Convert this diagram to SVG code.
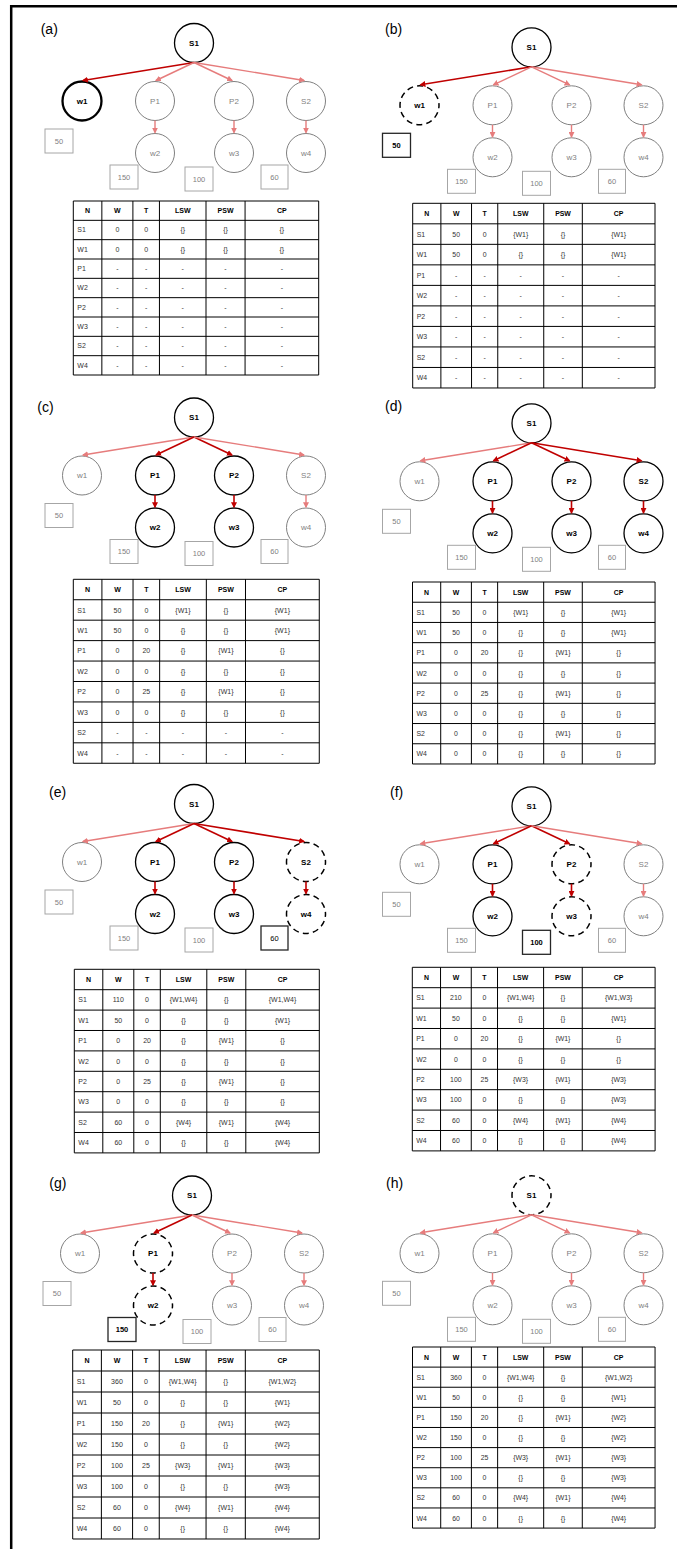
<svg xmlns="http://www.w3.org/2000/svg" width="677" height="1549" viewBox="0 0 677 1549">
<style>
text{font-family:"Liberation Sans",Arial,sans-serif}
.frame{fill:none;stroke:#000;stroke-width:2.5}
.plabel{font-size:14px;fill:#000}
.nd circle{fill:#fff}
.nd text{font-size:8px;text-anchor:middle}
.act circle{stroke:#000;stroke-width:1.3}
.thick circle{stroke:#000;stroke-width:2.3}
.dash circle{stroke:#000;stroke-width:1.5;stroke-dasharray:6.1 4.11;stroke-dashoffset:3.05}
.off circle{stroke:#808080;stroke-width:1}
.act text,.thick text,.dash text{font-weight:bold;fill:#000}
.off text{fill:#7f7f7f}
.bx rect{fill:#fff}
.bx text{font-size:7.5px;text-anchor:middle}
.bx.off rect{stroke:#a6a6a6;stroke-width:1}
.bx.on rect{stroke:#262626;stroke-width:1.3}
.bx.on text{fill:#000}
.bx.on.b text{font-weight:bold}
.eon{fill:none;stroke:#c00000;stroke-width:1.6;marker-end:url(#ahOn)}
.eoff{fill:none;stroke:#e67c7c;stroke-width:1.4;marker-end:url(#ahOff)}
.tt{font-size:7px;fill:#333}
.th{font-weight:bold;fill:#000}
.c{text-anchor:middle}
.grid{fill:none;stroke:#000;stroke-width:1}
</style>
<defs>
<marker id="ahOn" viewBox="0 0 8 8" refX="6.5" refY="4" markerWidth="6" markerHeight="6" markerUnits="userSpaceOnUse" orient="auto"><path d="M0,0L8,4L0,8z" fill="#c00000"/></marker>
<marker id="ahOff" viewBox="0 0 8 8" refX="6.5" refY="4" markerWidth="6" markerHeight="6" markerUnits="userSpaceOnUse" orient="auto"><path d="M0,0L8,4L0,8z" fill="#e67c7c"/></marker>
<g id="tframe">
<path class="grid" vector-effect="non-scaling-stroke" d="M0,0H245M0,20H245M0,40H245M0,60H245M0,80H245M0,100H245M0,120H245M0,140H245M0,160H245M0,180H245M0,0V180M28.5,0V180M59.5,0V180M86,0V180M132.5,0V180M171.5,0V180M245,0V180"/>
<text class="tt th c" y="12.5"><tspan x="14.25">N</tspan><tspan x="44">W</tspan><tspan x="72.75">T</tspan><tspan x="109.25">LSW</tspan><tspan x="152">PSW</tspan><tspan x="208.25">CP</tspan></text>
<text class="tt"><tspan x="4" y="32.5">S1</tspan><tspan x="4" y="52.5">W1</tspan><tspan x="4" y="72.5">P1</tspan><tspan x="4" y="92.5">W2</tspan><tspan x="4" y="112.5">P2</tspan><tspan x="4" y="132.5">W3</tspan><tspan x="4" y="152.5">S2</tspan><tspan x="4" y="172.5">W4</tspan></text>
</g>
</defs>
<rect width="677" height="1549" fill="#fff"/>
<path class="frame" d="M11.2,1549V6.2H677"/>

<g id="labels">
<text class="plabel" x="40.7" y="33.5">(a)</text>
<text class="plabel" x="385" y="33.5">(b)</text>
<text class="plabel" x="37.3" y="412">(c)</text>
<text class="plabel" x="385" y="411">(d)</text>
<text class="plabel" x="49" y="797">(e)</text>
<text class="plabel" x="390" y="797">(f)</text>
<text class="plabel" x="49.3" y="1188">(g)</text>
<text class="plabel" x="386" y="1188">(h)</text>
</g>

<!-- Panel a -->
<g id="panel-a" transform="translate(0,0)">
<g id="a-S1" class="nd act"><circle cx="194" cy="43" r="19.5"/><text x="194" y="45.8">S1</text></g>
<g id="a-w1" class="nd thick"><circle cx="82" cy="101" r="19.5"/><text x="82" y="103.8">w1</text></g>
<g id="a-P1" class="nd off"><circle cx="155" cy="101" r="19.5"/><text x="155" y="103.8">P1</text></g>
<g id="a-P2" class="nd off"><circle cx="234" cy="101" r="19.5"/><text x="234" y="103.8">P2</text></g>
<g id="a-S2" class="nd off"><circle cx="306" cy="101" r="19.5"/><text x="306" y="103.8">S2</text></g>
<g id="a-w2" class="nd off"><circle cx="155" cy="153" r="19.5"/><text x="155" y="155.8">w2</text></g>
<g id="a-w3" class="nd off"><circle cx="234" cy="153" r="19.5"/><text x="234" y="155.8">w3</text></g>
<g id="a-w4" class="nd off"><circle cx="306" cy="153" r="19.5"/><text x="306" y="155.8">w4</text></g>
<g id="a-v1" class="bx off"><rect x="45" y="129" width="28" height="24"/><text x="59" y="143.7">50</text></g>
<g id="a-v2" class="bx off"><rect x="110" y="165" width="28" height="24"/><text x="124" y="179.7">150</text></g>
<g id="a-v3" class="bx off"><rect x="185" y="167" width="28" height="24"/><text x="199" y="181.7">100</text></g>
<g id="a-v4" class="bx off"><rect x="261" y="165" width="27" height="24"/><text x="274.5" y="179.7">60</text></g>
<g id="a-edges">
<path class="eon" d="M194,62.5L83,80.5"/>
<path class="eoff" d="M194,62.5L156,80.5"/>
<path class="eoff" d="M194,62.5L232,80.5"/>
<path class="eoff" d="M194,62.5L304,80.5"/>
<path class="eoff" d="M155,120.5V132.5"/>
<path class="eoff" d="M234,120.5V132.5"/>
<path class="eoff" d="M306,120.5V132.5"/>
</g>
</g>

<!-- Panel b -->
<g id="panel-b" transform="translate(337.5,4.3)">
<g id="b-S1" class="nd act"><circle cx="194" cy="43" r="19.5"/><text x="194" y="45.8">S1</text></g>
<g id="b-w1" class="nd dash"><circle cx="82" cy="101" r="19.5"/><text x="82" y="103.8">w1</text></g>
<g id="b-P1" class="nd off"><circle cx="155" cy="101" r="19.5"/><text x="155" y="103.8">P1</text></g>
<g id="b-P2" class="nd off"><circle cx="234" cy="101" r="19.5"/><text x="234" y="103.8">P2</text></g>
<g id="b-S2" class="nd off"><circle cx="306" cy="101" r="19.5"/><text x="306" y="103.8">S2</text></g>
<g id="b-w2" class="nd off"><circle cx="155" cy="153" r="19.5"/><text x="155" y="155.8">w2</text></g>
<g id="b-w3" class="nd off"><circle cx="234" cy="153" r="19.5"/><text x="234" y="155.8">w3</text></g>
<g id="b-w4" class="nd off"><circle cx="306" cy="153" r="19.5"/><text x="306" y="155.8">w4</text></g>
<g id="b-v1" class="bx on b"><rect x="45" y="129" width="28" height="24"/><text x="59" y="143.7">50</text></g>
<g id="b-v2" class="bx off"><rect x="110" y="165" width="28" height="24"/><text x="124" y="179.7">150</text></g>
<g id="b-v3" class="bx off"><rect x="185" y="167" width="28" height="24"/><text x="199" y="181.7">100</text></g>
<g id="b-v4" class="bx off"><rect x="261" y="165" width="27" height="24"/><text x="274.5" y="179.7">60</text></g>
<g id="b-edges">
<path class="eon" d="M194,62.5L83,80.5"/>
<path class="eoff" d="M194,62.5L156,80.5"/>
<path class="eoff" d="M194,62.5L232,80.5"/>
<path class="eoff" d="M194,62.5L304,80.5"/>
<path class="eoff" d="M155,120.5V132.5"/>
<path class="eoff" d="M234,120.5V132.5"/>
<path class="eoff" d="M306,120.5V132.5"/>
</g>
</g>

<!-- Panel c -->
<g id="panel-c" transform="translate(0,374.5)">
<g id="c-S1" class="nd act"><circle cx="194" cy="43" r="19.5"/><text x="194" y="45.8">S1</text></g>
<g id="c-w1" class="nd off"><circle cx="82" cy="101" r="19.5"/><text x="82" y="103.8">w1</text></g>
<g id="c-P1" class="nd act"><circle cx="155" cy="101" r="19.5"/><text x="155" y="103.8">P1</text></g>
<g id="c-P2" class="nd act"><circle cx="234" cy="101" r="19.5"/><text x="234" y="103.8">P2</text></g>
<g id="c-S2" class="nd off"><circle cx="306" cy="101" r="19.5"/><text x="306" y="103.8">S2</text></g>
<g id="c-w2" class="nd act"><circle cx="155" cy="153" r="19.5"/><text x="155" y="155.8">w2</text></g>
<g id="c-w3" class="nd act"><circle cx="234" cy="153" r="19.5"/><text x="234" y="155.8">w3</text></g>
<g id="c-w4" class="nd off"><circle cx="306" cy="153" r="19.5"/><text x="306" y="155.8">w4</text></g>
<g id="c-v1" class="bx off"><rect x="45" y="129" width="28" height="24"/><text x="59" y="143.7">50</text></g>
<g id="c-v2" class="bx off"><rect x="110" y="165" width="28" height="24"/><text x="124" y="179.7">150</text></g>
<g id="c-v3" class="bx off"><rect x="185" y="167" width="28" height="24"/><text x="199" y="181.7">100</text></g>
<g id="c-v4" class="bx off"><rect x="261" y="165" width="27" height="24"/><text x="274.5" y="179.7">60</text></g>
<g id="c-edges">
<path class="eoff" d="M194,62.5L83,80.5"/>
<path class="eon" d="M194,62.5L156,80.5"/>
<path class="eon" d="M194,62.5L232,80.5"/>
<path class="eoff" d="M194,62.5L304,80.5"/>
<path class="eon" d="M155,120.5V132.5"/>
<path class="eon" d="M234,120.5V132.5"/>
<path class="eoff" d="M306,120.5V132.5"/>
</g>
</g>

<!-- Panel d -->
<g id="panel-d" transform="translate(337.5,380.3)">
<g id="d-S1" class="nd act"><circle cx="194" cy="43" r="19.5"/><text x="194" y="45.8">S1</text></g>
<g id="d-w1" class="nd off"><circle cx="82" cy="101" r="19.5"/><text x="82" y="103.8">w1</text></g>
<g id="d-P1" class="nd act"><circle cx="155" cy="101" r="19.5"/><text x="155" y="103.8">P1</text></g>
<g id="d-P2" class="nd act"><circle cx="234" cy="101" r="19.5"/><text x="234" y="103.8">P2</text></g>
<g id="d-S2" class="nd act"><circle cx="306" cy="101" r="19.5"/><text x="306" y="103.8">S2</text></g>
<g id="d-w2" class="nd act"><circle cx="155" cy="153" r="19.5"/><text x="155" y="155.8">w2</text></g>
<g id="d-w3" class="nd act"><circle cx="234" cy="153" r="19.5"/><text x="234" y="155.8">w3</text></g>
<g id="d-w4" class="nd act"><circle cx="306" cy="153" r="19.5"/><text x="306" y="155.8">w4</text></g>
<g id="d-v1" class="bx off"><rect x="45" y="129" width="28" height="24"/><text x="59" y="143.7">50</text></g>
<g id="d-v2" class="bx off"><rect x="110" y="165" width="28" height="24"/><text x="124" y="179.7">150</text></g>
<g id="d-v3" class="bx off"><rect x="185" y="167" width="28" height="24"/><text x="199" y="181.7">100</text></g>
<g id="d-v4" class="bx off"><rect x="261" y="165" width="27" height="24"/><text x="274.5" y="179.7">60</text></g>
<g id="d-edges">
<path class="eoff" d="M194,62.5L83,80.5"/>
<path class="eon" d="M194,62.5L156,80.5"/>
<path class="eon" d="M194,62.5L232,80.5"/>
<path class="eon" d="M194,62.5L304,80.5"/>
<path class="eon" d="M155,120.5V132.5"/>
<path class="eon" d="M234,120.5V132.5"/>
<path class="eon" d="M306,120.5V132.5"/>
</g>
</g>

<!-- Panel e -->
<g id="panel-e" transform="translate(0,761)">
<g id="e-S1" class="nd act"><circle cx="194" cy="43" r="19.5"/><text x="194" y="45.8">S1</text></g>
<g id="e-w1" class="nd off"><circle cx="82" cy="101" r="19.5"/><text x="82" y="103.8">w1</text></g>
<g id="e-P1" class="nd act"><circle cx="155" cy="101" r="19.5"/><text x="155" y="103.8">P1</text></g>
<g id="e-P2" class="nd act"><circle cx="234" cy="101" r="19.5"/><text x="234" y="103.8">P2</text></g>
<g id="e-S2" class="nd dash"><circle cx="306" cy="101" r="19.5"/><text x="306" y="103.8">S2</text></g>
<g id="e-w2" class="nd act"><circle cx="155" cy="153" r="19.5"/><text x="155" y="155.8">w2</text></g>
<g id="e-w3" class="nd act"><circle cx="234" cy="153" r="19.5"/><text x="234" y="155.8">w3</text></g>
<g id="e-w4" class="nd dash"><circle cx="306" cy="153" r="19.5"/><text x="306" y="155.8">w4</text></g>
<g id="e-v1" class="bx off"><rect x="45" y="129" width="28" height="24"/><text x="59" y="143.7">50</text></g>
<g id="e-v2" class="bx off"><rect x="110" y="165" width="28" height="24"/><text x="124" y="179.7">150</text></g>
<g id="e-v3" class="bx off"><rect x="185" y="167" width="28" height="24"/><text x="199" y="181.7">100</text></g>
<g id="e-v4" class="bx on"><rect x="261" y="165" width="27" height="24"/><text x="274.5" y="179.7">60</text></g>
<g id="e-edges">
<path class="eoff" d="M194,62.5L83,80.5"/>
<path class="eon" d="M194,62.5L156,80.5"/>
<path class="eon" d="M194,62.5L232,80.5"/>
<path class="eon" d="M194,62.5L304,80.5"/>
<path class="eon" d="M155,120.5V132.5"/>
<path class="eon" d="M234,120.5V132.5"/>
<path class="eon" d="M306,120.5V132.5"/>
</g>
</g>

<!-- Panel f -->
<g id="panel-f" transform="translate(337.5,763.3)">
<g id="f-S1" class="nd act"><circle cx="194" cy="43" r="19.5"/><text x="194" y="45.8">S1</text></g>
<g id="f-w1" class="nd off"><circle cx="82" cy="101" r="19.5"/><text x="82" y="103.8">w1</text></g>
<g id="f-P1" class="nd act"><circle cx="155" cy="101" r="19.5"/><text x="155" y="103.8">P1</text></g>
<g id="f-P2" class="nd dash"><circle cx="234" cy="101" r="19.5"/><text x="234" y="103.8">P2</text></g>
<g id="f-S2" class="nd off"><circle cx="306" cy="101" r="19.5"/><text x="306" y="103.8">S2</text></g>
<g id="f-w2" class="nd act"><circle cx="155" cy="153" r="19.5"/><text x="155" y="155.8">w2</text></g>
<g id="f-w3" class="nd dash"><circle cx="234" cy="153" r="19.5"/><text x="234" y="155.8">w3</text></g>
<g id="f-w4" class="nd off"><circle cx="306" cy="153" r="19.5"/><text x="306" y="155.8">w4</text></g>
<g id="f-v1" class="bx off"><rect x="45" y="129" width="28" height="24"/><text x="59" y="143.7">50</text></g>
<g id="f-v2" class="bx off"><rect x="110" y="165" width="28" height="24"/><text x="124" y="179.7">150</text></g>
<g id="f-v3" class="bx on b"><rect x="185" y="167" width="28" height="24"/><text x="199" y="181.7">100</text></g>
<g id="f-v4" class="bx off"><rect x="261" y="165" width="27" height="24"/><text x="274.5" y="179.7">60</text></g>
<g id="f-edges">
<path class="eoff" d="M194,62.5L83,80.5"/>
<path class="eon" d="M194,62.5L156,80.5"/>
<path class="eon" d="M194,62.5L232,80.5"/>
<path class="eoff" d="M194,62.5L304,80.5"/>
<path class="eon" d="M155,120.5V132.5"/>
<path class="eon" d="M234,120.5V132.5"/>
<path class="eoff" d="M306,120.5V132.5"/>
</g>
</g>

<!-- Panel g -->
<g id="panel-g" transform="translate(-2,1152.5)">
<g id="g-S1" class="nd act"><circle cx="194" cy="43" r="19.5"/><text x="194" y="45.8">S1</text></g>
<g id="g-w1" class="nd off"><circle cx="82" cy="101" r="19.5"/><text x="82" y="103.8">w1</text></g>
<g id="g-P1" class="nd dash"><circle cx="155" cy="101" r="19.5"/><text x="155" y="103.8">P1</text></g>
<g id="g-P2" class="nd off"><circle cx="234" cy="101" r="19.5"/><text x="234" y="103.8">P2</text></g>
<g id="g-S2" class="nd off"><circle cx="306" cy="101" r="19.5"/><text x="306" y="103.8">S2</text></g>
<g id="g-w2" class="nd dash"><circle cx="155" cy="153" r="19.5"/><text x="155" y="155.8">w2</text></g>
<g id="g-w3" class="nd off"><circle cx="234" cy="153" r="19.5"/><text x="234" y="155.8">w3</text></g>
<g id="g-w4" class="nd off"><circle cx="306" cy="153" r="19.5"/><text x="306" y="155.8">w4</text></g>
<g id="g-v1" class="bx off"><rect x="45" y="129" width="28" height="24"/><text x="59" y="143.7">50</text></g>
<g id="g-v2" class="bx on b"><rect x="110" y="165" width="28" height="24"/><text x="124" y="179.7">150</text></g>
<g id="g-v3" class="bx off"><rect x="185" y="167" width="28" height="24"/><text x="199" y="181.7">100</text></g>
<g id="g-v4" class="bx off"><rect x="261" y="165" width="27" height="24"/><text x="274.5" y="179.7">60</text></g>
<g id="g-edges">
<path class="eoff" d="M194,62.5L83,80.5"/>
<path class="eon" d="M194,62.5L156,80.5"/>
<path class="eoff" d="M194,62.5L232,80.5"/>
<path class="eoff" d="M194,62.5L304,80.5"/>
<path class="eon" d="M155,120.5V132.5"/>
<path class="eoff" d="M234,120.5V132.5"/>
<path class="eoff" d="M306,120.5V132.5"/>
</g>
</g>

<!-- Panel h -->
<g id="panel-h" transform="translate(337.5,1152.3)">
<g id="h-S1" class="nd dash"><circle cx="194" cy="43" r="19.5"/><text x="194" y="45.8">S1</text></g>
<g id="h-w1" class="nd off"><circle cx="82" cy="101" r="19.5"/><text x="82" y="103.8">w1</text></g>
<g id="h-P1" class="nd off"><circle cx="155" cy="101" r="19.5"/><text x="155" y="103.8">P1</text></g>
<g id="h-P2" class="nd off"><circle cx="234" cy="101" r="19.5"/><text x="234" y="103.8">P2</text></g>
<g id="h-S2" class="nd off"><circle cx="306" cy="101" r="19.5"/><text x="306" y="103.8">S2</text></g>
<g id="h-w2" class="nd off"><circle cx="155" cy="153" r="19.5"/><text x="155" y="155.8">w2</text></g>
<g id="h-w3" class="nd off"><circle cx="234" cy="153" r="19.5"/><text x="234" y="155.8">w3</text></g>
<g id="h-w4" class="nd off"><circle cx="306" cy="153" r="19.5"/><text x="306" y="155.8">w4</text></g>
<g id="h-v1" class="bx off"><rect x="45" y="129" width="28" height="24"/><text x="59" y="143.7">50</text></g>
<g id="h-v2" class="bx off"><rect x="110" y="165" width="28" height="24"/><text x="124" y="179.7">150</text></g>
<g id="h-v3" class="bx off"><rect x="185" y="167" width="28" height="24"/><text x="199" y="181.7">100</text></g>
<g id="h-v4" class="bx off"><rect x="261" y="165" width="27" height="24"/><text x="274.5" y="179.7">60</text></g>
<g id="h-edges">
<path class="eoff" d="M194,62.5L83,80.5"/>
<path class="eoff" d="M194,62.5L156,80.5"/>
<path class="eoff" d="M194,62.5L232,80.5"/>
<path class="eoff" d="M194,62.5L304,80.5"/>
<path class="eoff" d="M155,120.5V132.5"/>
<path class="eoff" d="M234,120.5V132.5"/>
<path class="eoff" d="M306,120.5V132.5"/>
</g>
</g>

<!-- Tables -->
<g id="table-a" transform="translate(73.3,201) scale(1.0016,0.9667)">
<use href="#tframe"/>
<text class="tt c" y="32.5"><tspan x="44">0</tspan><tspan x="72.75">0</tspan><tspan x="109.25">{}</tspan><tspan x="152">{}</tspan><tspan x="208.25">{}</tspan></text>
<text class="tt c" y="52.5"><tspan x="44">0</tspan><tspan x="72.75">0</tspan><tspan x="109.25">{}</tspan><tspan x="152">{}</tspan><tspan x="208.25">{}</tspan></text>
<text class="tt c" y="72.5"><tspan x="44">-</tspan><tspan x="72.75">-</tspan><tspan x="109.25">-</tspan><tspan x="152">-</tspan><tspan x="208.25">-</tspan></text>
<text class="tt c" y="92.5"><tspan x="44">-</tspan><tspan x="72.75">-</tspan><tspan x="109.25">-</tspan><tspan x="152">-</tspan><tspan x="208.25">-</tspan></text>
<text class="tt c" y="112.5"><tspan x="44">-</tspan><tspan x="72.75">-</tspan><tspan x="109.25">-</tspan><tspan x="152">-</tspan><tspan x="208.25">-</tspan></text>
<text class="tt c" y="132.5"><tspan x="44">-</tspan><tspan x="72.75">-</tspan><tspan x="109.25">-</tspan><tspan x="152">-</tspan><tspan x="208.25">-</tspan></text>
<text class="tt c" y="152.5"><tspan x="44">-</tspan><tspan x="72.75">-</tspan><tspan x="109.25">-</tspan><tspan x="152">-</tspan><tspan x="208.25">-</tspan></text>
<text class="tt c" y="172.5"><tspan x="44">-</tspan><tspan x="72.75">-</tspan><tspan x="109.25">-</tspan><tspan x="152">-</tspan><tspan x="208.25">-</tspan></text>
</g>

<g id="table-b" transform="translate(412.7,203.3) scale(0.989,1.026)">
<use href="#tframe"/>
<text class="tt c" y="32.5"><tspan x="44">50</tspan><tspan x="72.75">0</tspan><tspan x="109.25">{W1}</tspan><tspan x="152">{}</tspan><tspan x="208.25">{W1}</tspan></text>
<text class="tt c" y="52.5"><tspan x="44">50</tspan><tspan x="72.75">0</tspan><tspan x="109.25">{}</tspan><tspan x="152">{}</tspan><tspan x="208.25">{W1}</tspan></text>
<text class="tt c" y="72.5"><tspan x="44">-</tspan><tspan x="72.75">-</tspan><tspan x="109.25">-</tspan><tspan x="152">-</tspan><tspan x="208.25">-</tspan></text>
<text class="tt c" y="92.5"><tspan x="44">-</tspan><tspan x="72.75">-</tspan><tspan x="109.25">-</tspan><tspan x="152">-</tspan><tspan x="208.25">-</tspan></text>
<text class="tt c" y="112.5"><tspan x="44">-</tspan><tspan x="72.75">-</tspan><tspan x="109.25">-</tspan><tspan x="152">-</tspan><tspan x="208.25">-</tspan></text>
<text class="tt c" y="132.5"><tspan x="44">-</tspan><tspan x="72.75">-</tspan><tspan x="109.25">-</tspan><tspan x="152">-</tspan><tspan x="208.25">-</tspan></text>
<text class="tt c" y="152.5"><tspan x="44">-</tspan><tspan x="72.75">-</tspan><tspan x="109.25">-</tspan><tspan x="152">-</tspan><tspan x="208.25">-</tspan></text>
<text class="tt c" y="172.5"><tspan x="44">-</tspan><tspan x="72.75">-</tspan><tspan x="109.25">-</tspan><tspan x="152">-</tspan><tspan x="208.25">-</tspan></text>
</g>

<g id="table-c" transform="translate(73.3,579.3) scale(1.004,1.022)">
<use href="#tframe"/>
<text class="tt c" y="32.5"><tspan x="44">50</tspan><tspan x="72.75">0</tspan><tspan x="109.25">{W1}</tspan><tspan x="152">{}</tspan><tspan x="208.25">{W1}</tspan></text>
<text class="tt c" y="52.5"><tspan x="44">50</tspan><tspan x="72.75">0</tspan><tspan x="109.25">{}</tspan><tspan x="152">{}</tspan><tspan x="208.25">{W1}</tspan></text>
<text class="tt c" y="72.5"><tspan x="44">0</tspan><tspan x="72.75">20</tspan><tspan x="109.25">{}</tspan><tspan x="152">{W1}</tspan><tspan x="208.25">{}</tspan></text>
<text class="tt c" y="92.5"><tspan x="44">0</tspan><tspan x="72.75">0</tspan><tspan x="109.25">{}</tspan><tspan x="152">{}</tspan><tspan x="208.25">{}</tspan></text>
<text class="tt c" y="112.5"><tspan x="44">0</tspan><tspan x="72.75">25</tspan><tspan x="109.25">{}</tspan><tspan x="152">{W1}</tspan><tspan x="208.25">{}</tspan></text>
<text class="tt c" y="132.5"><tspan x="44">0</tspan><tspan x="72.75">0</tspan><tspan x="109.25">{}</tspan><tspan x="152">{}</tspan><tspan x="208.25">{}</tspan></text>
<text class="tt c" y="152.5"><tspan x="44">-</tspan><tspan x="72.75">-</tspan><tspan x="109.25">-</tspan><tspan x="152">-</tspan><tspan x="208.25">-</tspan></text>
<text class="tt c" y="172.5"><tspan x="44">-</tspan><tspan x="72.75">-</tspan><tspan x="109.25">-</tspan><tspan x="152">-</tspan><tspan x="208.25">-</tspan></text>
</g>

<g id="table-d" transform="translate(412.5,582) scale(0.99,1.011)">
<use href="#tframe"/>
<text class="tt c" y="32.5"><tspan x="44">50</tspan><tspan x="72.75">0</tspan><tspan x="109.25">{W1}</tspan><tspan x="152">{}</tspan><tspan x="208.25">{W1}</tspan></text>
<text class="tt c" y="52.5"><tspan x="44">50</tspan><tspan x="72.75">0</tspan><tspan x="109.25">{}</tspan><tspan x="152">{}</tspan><tspan x="208.25">{W1}</tspan></text>
<text class="tt c" y="72.5"><tspan x="44">0</tspan><tspan x="72.75">20</tspan><tspan x="109.25">{}</tspan><tspan x="152">{W1}</tspan><tspan x="208.25">{}</tspan></text>
<text class="tt c" y="92.5"><tspan x="44">0</tspan><tspan x="72.75">0</tspan><tspan x="109.25">{}</tspan><tspan x="152">{}</tspan><tspan x="208.25">{}</tspan></text>
<text class="tt c" y="112.5"><tspan x="44">0</tspan><tspan x="72.75">25</tspan><tspan x="109.25">{}</tspan><tspan x="152">{W1}</tspan><tspan x="208.25">{}</tspan></text>
<text class="tt c" y="132.5"><tspan x="44">0</tspan><tspan x="72.75">0</tspan><tspan x="109.25">{}</tspan><tspan x="152">{}</tspan><tspan x="208.25">{}</tspan></text>
<text class="tt c" y="152.5"><tspan x="44">0</tspan><tspan x="72.75">0</tspan><tspan x="109.25">{}</tspan><tspan x="152">{W1}</tspan><tspan x="208.25">{}</tspan></text>
<text class="tt c" y="172.5"><tspan x="44">0</tspan><tspan x="72.75">0</tspan><tspan x="109.25">{}</tspan><tspan x="152">{}</tspan><tspan x="208.25">{}</tspan></text>
</g>

<g id="table-e" transform="translate(74.3,969.3) scale(1,1.02)">
<use href="#tframe"/>
<text class="tt c" y="32.5"><tspan x="44">110</tspan><tspan x="72.75">0</tspan><tspan x="109.25">{W1,W4}</tspan><tspan x="152">{}</tspan><tspan x="208.25">{W1,W4}</tspan></text>
<text class="tt c" y="52.5"><tspan x="44">50</tspan><tspan x="72.75">0</tspan><tspan x="109.25">{}</tspan><tspan x="152">{}</tspan><tspan x="208.25">{W1}</tspan></text>
<text class="tt c" y="72.5"><tspan x="44">0</tspan><tspan x="72.75">20</tspan><tspan x="109.25">{}</tspan><tspan x="152">{W1}</tspan><tspan x="208.25">{}</tspan></text>
<text class="tt c" y="92.5"><tspan x="44">0</tspan><tspan x="72.75">0</tspan><tspan x="109.25">{}</tspan><tspan x="152">{}</tspan><tspan x="208.25">{}</tspan></text>
<text class="tt c" y="112.5"><tspan x="44">0</tspan><tspan x="72.75">25</tspan><tspan x="109.25">{}</tspan><tspan x="152">{W1}</tspan><tspan x="208.25">{}</tspan></text>
<text class="tt c" y="132.5"><tspan x="44">0</tspan><tspan x="72.75">0</tspan><tspan x="109.25">{}</tspan><tspan x="152">{}</tspan><tspan x="208.25">{}</tspan></text>
<text class="tt c" y="152.5"><tspan x="44">60</tspan><tspan x="72.75">0</tspan><tspan x="109.25">{W4}</tspan><tspan x="152">{W1}</tspan><tspan x="208.25">{W4}</tspan></text>
<text class="tt c" y="172.5"><tspan x="44">60</tspan><tspan x="72.75">0</tspan><tspan x="109.25">{}</tspan><tspan x="152">{}</tspan><tspan x="208.25">{W4}</tspan></text>
</g>

<g id="table-f" transform="translate(412.3,967.3) scale(0.991,1.02)">
<use href="#tframe"/>
<text class="tt c" y="32.5"><tspan x="44">210</tspan><tspan x="72.75">0</tspan><tspan x="109.25">{W1,W4}</tspan><tspan x="152">{}</tspan><tspan x="208.25">{W1,W3}</tspan></text>
<text class="tt c" y="52.5"><tspan x="44">50</tspan><tspan x="72.75">0</tspan><tspan x="109.25">{}</tspan><tspan x="152">{}</tspan><tspan x="208.25">{W1}</tspan></text>
<text class="tt c" y="72.5"><tspan x="44">0</tspan><tspan x="72.75">20</tspan><tspan x="109.25">{}</tspan><tspan x="152">{W1}</tspan><tspan x="208.25">{}</tspan></text>
<text class="tt c" y="92.5"><tspan x="44">0</tspan><tspan x="72.75">0</tspan><tspan x="109.25">{}</tspan><tspan x="152">{}</tspan><tspan x="208.25">{}</tspan></text>
<text class="tt c" y="112.5"><tspan x="44">100</tspan><tspan x="72.75">25</tspan><tspan x="109.25">{W3}</tspan><tspan x="152">{W1}</tspan><tspan x="208.25">{W3}</tspan></text>
<text class="tt c" y="132.5"><tspan x="44">100</tspan><tspan x="72.75">0</tspan><tspan x="109.25">{}</tspan><tspan x="152">{}</tspan><tspan x="208.25">{W3}</tspan></text>
<text class="tt c" y="152.5"><tspan x="44">60</tspan><tspan x="72.75">0</tspan><tspan x="109.25">{W4}</tspan><tspan x="152">{W1}</tspan><tspan x="208.25">{W4}</tspan></text>
<text class="tt c" y="172.5"><tspan x="44">60</tspan><tspan x="72.75">0</tspan><tspan x="109.25">{}</tspan><tspan x="152">{}</tspan><tspan x="208.25">{W4}</tspan></text>
</g>

<g id="table-g" transform="translate(72.7,1350) scale(1.0065,1.05)">
<use href="#tframe"/>
<text class="tt c" y="32.5"><tspan x="44">360</tspan><tspan x="72.75">0</tspan><tspan x="109.25">{W1,W4}</tspan><tspan x="152">{}</tspan><tspan x="208.25">{W1,W2}</tspan></text>
<text class="tt c" y="52.5"><tspan x="44">50</tspan><tspan x="72.75">0</tspan><tspan x="109.25">{}</tspan><tspan x="152">{}</tspan><tspan x="208.25">{W1}</tspan></text>
<text class="tt c" y="72.5"><tspan x="44">150</tspan><tspan x="72.75">20</tspan><tspan x="109.25">{}</tspan><tspan x="152">{W1}</tspan><tspan x="208.25">{W2}</tspan></text>
<text class="tt c" y="92.5"><tspan x="44">150</tspan><tspan x="72.75">0</tspan><tspan x="109.25">{}</tspan><tspan x="152">{}</tspan><tspan x="208.25">{W2}</tspan></text>
<text class="tt c" y="112.5"><tspan x="44">100</tspan><tspan x="72.75">25</tspan><tspan x="109.25">{W3}</tspan><tspan x="152">{W1}</tspan><tspan x="208.25">{W3}</tspan></text>
<text class="tt c" y="132.5"><tspan x="44">100</tspan><tspan x="72.75">0</tspan><tspan x="109.25">{}</tspan><tspan x="152">{}</tspan><tspan x="208.25">{W3}</tspan></text>
<text class="tt c" y="152.5"><tspan x="44">60</tspan><tspan x="72.75">0</tspan><tspan x="109.25">{W4}</tspan><tspan x="152">{W1}</tspan><tspan x="208.25">{W4}</tspan></text>
<text class="tt c" y="172.5"><tspan x="44">60</tspan><tspan x="72.75">0</tspan><tspan x="109.25">{}</tspan><tspan x="152">{}</tspan><tspan x="208.25">{W4}</tspan></text>
</g>

<g id="table-h" transform="translate(412.5,1347) scale(0.99,1.006)">
<use href="#tframe"/>
<text class="tt c" y="32.5"><tspan x="44">360</tspan><tspan x="72.75">0</tspan><tspan x="109.25">{W1,W4}</tspan><tspan x="152">{}</tspan><tspan x="208.25">{W1,W2}</tspan></text>
<text class="tt c" y="52.5"><tspan x="44">50</tspan><tspan x="72.75">0</tspan><tspan x="109.25">{}</tspan><tspan x="152">{}</tspan><tspan x="208.25">{W1}</tspan></text>
<text class="tt c" y="72.5"><tspan x="44">150</tspan><tspan x="72.75">20</tspan><tspan x="109.25">{}</tspan><tspan x="152">{W1}</tspan><tspan x="208.25">{W2}</tspan></text>
<text class="tt c" y="92.5"><tspan x="44">150</tspan><tspan x="72.75">0</tspan><tspan x="109.25">{}</tspan><tspan x="152">{}</tspan><tspan x="208.25">{W2}</tspan></text>
<text class="tt c" y="112.5"><tspan x="44">100</tspan><tspan x="72.75">25</tspan><tspan x="109.25">{W3}</tspan><tspan x="152">{W1}</tspan><tspan x="208.25">{W3}</tspan></text>
<text class="tt c" y="132.5"><tspan x="44">100</tspan><tspan x="72.75">0</tspan><tspan x="109.25">{}</tspan><tspan x="152">{}</tspan><tspan x="208.25">{W3}</tspan></text>
<text class="tt c" y="152.5"><tspan x="44">60</tspan><tspan x="72.75">0</tspan><tspan x="109.25">{W4}</tspan><tspan x="152">{W1}</tspan><tspan x="208.25">{W4}</tspan></text>
<text class="tt c" y="172.5"><tspan x="44">60</tspan><tspan x="72.75">0</tspan><tspan x="109.25">{}</tspan><tspan x="152">{}</tspan><tspan x="208.25">{W4}</tspan></text>
</g>
</svg>
